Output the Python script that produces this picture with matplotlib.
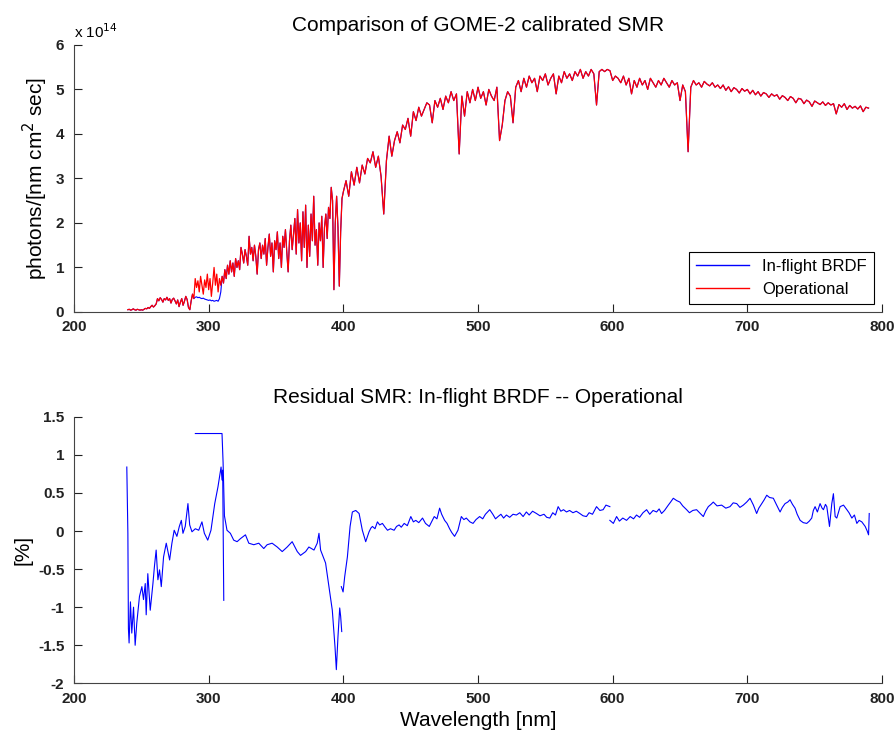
import numpy as np
import matplotlib.pyplot as plt
from matplotlib.ticker import FormatStrFormatter

plt.rcParams['font.family'] = ['Liberation Sans', 'DejaVu Sans']

# ---- top panel: calibrated SMR, units of 1e14 photons/[nm cm2 sec]
wl_uv = np.arange(240, 400, 1)
smr_uv = [0.05, 0.06, 0.04, 0.05, 0.07, 0.05, 0.04, 0.06, 0.05, 0.04,
          0.05, 0.04, 0.06, 0.08, 0.07, 0.10, 0.08, 0.12, 0.15, 0.11,
          0.14, 0.18, 0.30, 0.25, 0.32, 0.28, 0.22, 0.30, 0.27, 0.33,
          0.26, 0.30, 0.20, 0.28, 0.31, 0.25, 0.18, 0.27, 0.12, 0.22,
          0.30, 0.15, 0.24, 0.35, 0.28, 0.10, 0.05, 0.25, 0.40, 0.30,
          0.75, 0.55, 0.70, 0.45, 0.80, 0.60, 0.40, 0.72, 0.55, 0.85,
          0.50, 0.75, 0.35, 0.65, 1.00, 0.60, 0.85, 0.45, 0.75, 0.60,
          0.80, 0.65, 0.95, 0.75, 1.05, 0.85, 1.15, 0.90, 1.10, 0.80,
          1.20, 1.00, 1.15, 0.95, 1.45, 1.30, 1.10, 1.40, 1.25, 1.05,
          1.70, 1.30, 1.45, 1.15, 1.50, 1.25, 0.85, 1.40, 1.55, 1.20,
          1.50, 1.30, 1.65, 1.05, 1.45, 1.75, 1.25, 1.55, 0.90, 1.60,
          1.40, 1.80, 1.20, 1.55, 1.00, 1.70, 1.45, 1.85, 1.35, 0.90,
          1.60, 1.95, 1.40, 1.75, 2.10, 1.30, 2.30, 1.55, 2.00, 1.15,
          2.25, 1.45, 2.40, 1.00, 1.95, 1.25, 2.20, 1.60, 2.60, 1.50,
          1.85, 1.05, 2.00, 1.60, 2.15, 1.00, 1.90, 2.20, 1.65, 2.35,
          2.10, 2.80, 2.50, 0.50, 2.00, 2.60, 1.90, 0.58, 1.80, 2.55]

wl_vis = np.arange(400, 791, 2)
smr_vis = [2.70, 2.95, 2.60, 3.15, 2.85, 3.25, 2.90, 3.30, 3.10, 3.45,
           3.35, 3.60, 3.25, 3.50, 3.05, 2.20, 3.40, 3.95, 3.50, 3.85,
           4.05, 3.80, 4.20, 4.10, 4.35, 3.95, 4.50, 4.30, 4.60, 4.40,
           4.55, 4.70, 4.65, 4.25, 4.75, 4.60, 4.80, 4.55, 4.85, 4.70,
           4.95, 4.75, 4.90, 3.55, 4.85, 4.40, 4.95, 4.70, 5.00, 4.75,
           5.05, 4.80, 4.95, 4.65, 5.00, 4.85, 4.75, 5.05, 3.85, 4.20,
           4.75, 4.95, 4.85, 4.25, 5.05, 5.20, 4.95, 5.25, 5.05, 5.30,
           5.15, 5.25, 4.95, 5.30, 5.20, 5.35, 5.10, 5.25, 5.35, 4.90,
           5.30, 5.15, 5.40, 5.25, 5.35, 5.20, 5.40, 5.30, 5.45, 5.25,
           5.40, 5.30, 5.45, 5.35, 4.65, 5.40, 5.45, 5.40, 5.45, 5.42,
           5.20, 5.30, 5.25, 5.15, 5.30, 5.10, 5.25, 4.90, 5.20, 5.05,
           5.25, 5.10, 5.20, 5.00, 5.25, 5.15, 5.05, 5.20, 5.10, 5.25,
           5.15, 5.05, 5.20, 5.10, 5.15, 4.75, 5.10, 4.95, 3.60, 5.05,
           5.20, 5.10, 5.15, 5.05, 5.18, 5.12, 5.08, 5.15, 5.05, 5.10,
           5.02, 5.10, 4.98, 5.06, 4.95, 5.04, 5.00, 4.92, 5.02, 4.96,
           5.00, 4.90, 4.98, 4.88, 4.95, 4.85, 4.93, 4.90, 4.82, 4.90,
           4.85, 4.88, 4.78, 4.86, 4.82, 4.75, 4.84, 4.80, 4.70, 4.80,
           4.78, 4.68, 4.76, 4.72, 4.62, 4.74, 4.70, 4.66, 4.72, 4.64,
           4.70, 4.65, 4.68, 4.45, 4.66, 4.60, 4.68, 4.55, 4.64, 4.58,
           4.62, 4.56, 4.63, 4.50, 4.60, 4.58]

# in-flight BRDF only departs visibly from operational in 290-309 nm
wl_dev = np.arange(290, 310, 1)
brdf_dev = [0.33, 0.34, 0.32, 0.33, 0.31, 0.30, 0.31, 0.29, 0.28, 0.27,
            0.26, 0.27, 0.25, 0.26, 0.24, 0.25, 0.26, 0.24, 0.30, 0.45]

# ---- bottom panel: residual [%], four detector segments
res_a_wl = [239.2, 240.0, 240.4, 240.9, 241.9, 242.9, 244.2, 245.4, 246.6, 248.6,
            250.4, 251.6, 252.9, 253.6, 254.8, 256.6, 258.6, 259.8, 261.0, 262.3,
            263.5, 264.8, 266.5, 268.5, 271.0, 272.7, 274.4, 276.4, 278.2, 279.7,
            280.9, 282.6, 284.6, 285.9, 287.6, 290.1, 292.6, 295.0, 296.8, 299.3,
            301.7, 304.5, 306.9, 309.2, 309.9, 310.4, 311.2]
res_a = [0.84, -0.03, -1.28, -1.47, -0.93, -1.34, -1.00, -1.50, -1.21, -0.86,
         -0.73, -0.90, -0.69, -1.10, -0.56, -1.04, -0.69, -0.45, -0.25, -0.64,
         -0.51, -0.73, -0.34, -0.16, -0.38, -0.16, 0.01, -0.07, 0.06, 0.14,
         -0.03, 0.06, 0.36, 0.08, -0.01, 0.03, 0.01, 0.12, -0.03, -0.12,
         0.01, 0.36, 0.58, 0.84, 0.67, 0.80, -0.91]

res_b_wl = [290.1, 309.9, 310.7, 311.7, 313.6, 316.1, 318.6, 321.1, 323.6, 327.3,
            329.8, 333.5, 337.2, 340.9, 343.4, 347.1, 350.9, 354.6, 358.3, 362.0,
            365.8, 368.2, 372.0, 374.4, 378.2, 380.6, 381.9, 383.1, 386.8, 389.3,
            391.8, 393.8, 394.8, 396.0, 397.3, 398.0, 398.8]
res_b = [1.28, 1.28, 0.90, 0.20, 0.01, -0.03, -0.12, -0.14, -0.10, -0.05,
         -0.16, -0.18, -0.16, -0.23, -0.18, -0.16, -0.21, -0.27, -0.21, -0.14,
         -0.27, -0.32, -0.27, -0.21, -0.25, -0.16, -0.03, -0.25, -0.42, -0.73,
         -1.04, -1.52, -1.82, -1.39, -1.01, -1.12, -1.32]

res_c_wl = [398.5, 399.8, 401.0, 403.0, 405.0, 406.7, 409.2, 411.7, 414.1, 416.6,
            419.1, 420.5, 421.6, 423.5, 425.3, 427.0, 429.0, 431.0, 432.8, 435.0,
            437.7, 439.5, 441.4, 443.0, 445.2, 447.5, 450.1, 452.0, 453.8, 456.0,
            458.8, 461.0, 463.8, 465.5, 467.5, 469.5, 471.5, 473.0, 475.2, 477.0,
            478.9, 480.5, 482.6, 485.1, 487.6, 489.5, 491.3, 494.0, 496.3, 498.5,
            501.2, 503.5, 505.5, 508.7, 511.0, 513.0, 514.9, 517.0, 519.0, 521.1,
            523.5, 526.0, 528.5, 531.0, 533.5, 535.9, 538.0, 540.5, 543.4, 546.0,
            549.0, 551.0, 553.3, 555.5, 557.5, 559.5, 561.5, 563.5, 565.7, 568.0,
            570.5, 573.0, 575.6, 578.0, 580.5, 582.5, 585.0, 588.0, 590.5, 592.9,
            595.0, 597.9]
res_c = [-0.73, -0.80, -0.60, -0.34, 0.06, 0.25, 0.27, 0.23, 0.01, -0.14,
         -0.01, 0.04, 0.06, 0.03, 0.12, 0.08, 0.10, 0.05, 0.01, 0.03,
         0.01, 0.06, 0.08, 0.05, 0.10, 0.07, 0.19, 0.12, 0.14, 0.11,
         0.17, 0.10, 0.06, 0.12, 0.19, 0.16, 0.30, 0.22, 0.14, 0.10,
         0.03, -0.02, -0.07, 0.01, 0.19, 0.15, 0.17, 0.12, 0.10, 0.15,
         0.19, 0.16, 0.22, 0.28, 0.22, 0.16, 0.19, 0.22, 0.17, 0.21,
         0.18, 0.22, 0.21, 0.24, 0.19, 0.25, 0.21, 0.26, 0.23, 0.20,
         0.22, 0.18, 0.17, 0.24, 0.21, 0.32, 0.26, 0.28, 0.25, 0.27,
         0.24, 0.26, 0.23, 0.20, 0.19, 0.24, 0.22, 0.32, 0.27, 0.28,
         0.34, 0.32]

res_d_wl = [597.9, 600.5, 602.9, 605.0, 607.5, 610.3, 613.0, 615.5, 617.7, 620.0,
            622.5, 625.2, 627.5, 630.0, 632.6, 634.5, 636.3, 638.5, 641.3, 643.0,
            645.0, 647.5, 649.9, 652.0, 654.9, 657.0, 659.5, 662.3, 664.5, 667.3,
            669.0, 671.0, 673.0, 674.7, 677.5, 680.9, 684.0, 687.1, 689.5, 692.1,
            694.5, 697.0, 699.5, 702.0, 704.5, 706.9, 708.5, 710.7, 712.5, 714.4,
            716.5, 719.3, 721.5, 724.3, 726.0, 728.0, 730.0, 731.7, 733.5, 735.4,
            737.0, 739.2, 741.5, 744.1, 746.0, 747.8, 749.0, 750.3, 752.0, 754.0,
            755.5, 756.5, 758.0, 759.0, 761.0, 762.7, 763.9, 765.2, 766.4, 768.9,
            771.4, 773.9, 775.5, 777.6, 779.5, 781.3, 783.0, 785.0, 787.5, 789.0,
            790.0, 790.5]
res_d = [0.14, 0.10, 0.19, 0.13, 0.17, 0.14, 0.19, 0.16, 0.21, 0.18,
         0.24, 0.28, 0.22, 0.27, 0.25, 0.29, 0.23, 0.27, 0.34, 0.38,
         0.43, 0.40, 0.38, 0.33, 0.28, 0.24, 0.27, 0.28, 0.24, 0.19,
         0.26, 0.32, 0.35, 0.38, 0.33, 0.34, 0.30, 0.32, 0.37, 0.36,
         0.31, 0.34, 0.38, 0.43, 0.34, 0.23, 0.30, 0.36, 0.41, 0.47,
         0.44, 0.43, 0.35, 0.25, 0.31, 0.36, 0.38, 0.41, 0.35, 0.30,
         0.22, 0.14, 0.11, 0.10, 0.13, 0.17, 0.27, 0.32, 0.25, 0.36,
         0.30, 0.28, 0.35, 0.32, 0.06, 0.36, 0.49, 0.19, 0.17, 0.32,
         0.34, 0.28, 0.24, 0.17, 0.21, 0.10, 0.14, 0.12, 0.06, 0.00,
         -0.05, 0.23]

wl_op = np.concatenate([wl_uv, wl_vis])
smr_op = np.array(smr_uv + smr_vis)
smr_brdf = smr_op.copy()
smr_brdf[(wl_op >= 290) & (wl_op < 310)] = brdf_dev

fig = plt.figure(figsize=(8.96, 7.34), dpi=100)
ax1 = fig.add_axes([0.0826, 0.575, 0.9018, 0.3638])
ax2 = fig.add_axes([0.0826, 0.069, 0.9018, 0.3632])

ax1.plot(wl_op, smr_brdf, color='#0000ff', lw=0.8, label='In-flight BRDF')
ax1.plot(wl_op, smr_op, color='#ff0000', lw=0.9, label='Operational')
ax1.set_xlim(200, 800)
ax1.set_ylim(0, 6)
ax1.set_title('Comparison of GOME-2 calibrated SMR', fontsize=15, pad=10)
ax1.set_ylabel('photons/[nm cm$^2$ sec]', fontsize=15)
ax1.text(0.0, 1.015, 'x 10$^{14}$', transform=ax1.transAxes, fontsize=11,
         va='bottom', ha='left')
leg = ax1.legend(loc='lower right', fontsize=12, fancybox=False,
                 edgecolor='black', framealpha=1, borderaxespad=0.5,
                 handlelength=3.2)
leg.get_frame().set_linewidth(0.8)
for h in leg.get_lines():
    h.set_linewidth(1.0)

for seg_wl, seg in [(res_a_wl, res_a), (res_b_wl, res_b),
                    (res_c_wl, res_c), (res_d_wl, res_d)]:
    ax2.plot(seg_wl, seg, color='#0000ff', lw=0.8)
ax2.set_xlim(200, 800)
ax2.set_ylim(-2, 1.5)
ax2.set_yticks(np.arange(-2, 1.51, 0.5))
ax2.yaxis.set_major_formatter(FormatStrFormatter('%g'))
ax2.set_title('Residual SMR: In-flight BRDF -- Operational', fontsize=15, pad=10)
ax2.set_ylabel('[%]', fontsize=15)
ax2.set_xlabel('Wavelength [nm]', fontsize=15)

for ax in (ax1, ax2):
    ax.spines['top'].set_visible(False)
    ax.spines['right'].set_visible(False)
    for s in ('left', 'bottom'):
        ax.spines[s].set_color('#444444')
    ax.tick_params(direction='in', length=6, width=0.8, labelsize=11,
                   colors='#222222')
    ax.tick_params(axis='y', pad=7)
    ax.tick_params(axis='x', pad=6)
    for lab in ax.get_xticklabels() + ax.get_yticklabels():
        lab.set_fontweight('bold')

fig.savefig('out.png', dpi=100)
